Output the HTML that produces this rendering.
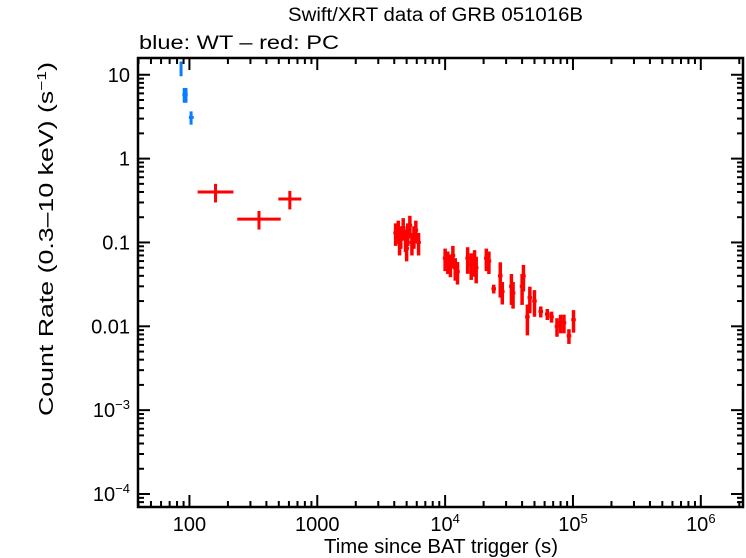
<!DOCTYPE html>
<html><head><meta charset="utf-8"><style>
body{margin:0;background:#fff}
svg{display:block;font-family:"Liberation Sans",sans-serif}
</style></head><body>
<svg id="c" width="746" height="558">
<text x="288" y="21" font-size="19" textLength="295" lengthAdjust="spacingAndGlyphs">Swift/XRT data of GRB 051016B</text>
<text x="139" y="49" font-size="19" textLength="200" lengthAdjust="spacingAndGlyphs">blue: WT – red: PC</text>
<text x="324" y="553" font-size="20" textLength="234" lengthAdjust="spacingAndGlyphs">Time since BAT trigger (s)</text>
<text transform="translate(53,416) rotate(-90)" font-size="20" textLength="354" lengthAdjust="spacingAndGlyphs">Count Rate (0.3–10 keV) (s<tspan dy="-7" font-size="13">−1</tspan><tspan dy="7">)</tspan></text>
<g id="axes"></g><g id="marks"></g>
<rect x="138" y="58" width="605" height="449" fill="none" stroke="#000" stroke-width="2.5"/>
</svg>
<script>
const xTickVals=[100,1000,1e4,1e5,1e6];
const xTickLabels=["100","1000","10^4","10^5","10^6"];
const yTickVals=[10,1,0.1,0.01,1e-3,1e-4];
const yTickLabels=["10","1","0.1","0.01","10^-3","10^-4"];
const wtT=[86,91,94,103];
const wtR=[12,5.8,5.8,3.1];
const wtTlo=[84,88,92,99];
const wtThi=[88,94,97,108];
const wtErr=[0.2,0.2,0.2,0.18];
const pcT=[160,350,610,4100,4300,4400,4500,4700,4900,5000,5100,5300,5500,5700,5900,6200,10000,10500,11000,11500,12000,12500,15000,16000,17000,17500,21000,22000,24000,27000,28000,33000,34000,40000,41000,44000,46000,50000,56000,63000,68000,75000,80000,85000,93000,101000];
const pcR=[0.4,0.19,0.33,0.13,0.14,0.1,0.12,0.15,0.11,0.085,0.13,0.16,0.1,0.12,0.14,0.1,0.065,0.06,0.055,0.07,0.05,0.045,0.065,0.055,0.06,0.05,0.065,0.06,0.028,0.04,0.026,0.03,0.025,0.03,0.04,0.013,0.022,0.02,0.015,0.014,0.013,0.01,0.011,0.011,0.0077,0.012];
const pcErr=[0.25,0.25,0.25,0.3,0.3,0.3,0.3,0.3,0.3,0.3,0.3,0.3,0.3,0.3,0.3,0.3,0.3,0.3,0.3,0.3,0.3,0.3,0.35,0.35,0.35,0.35,0.3,0.3,0.12,0.45,0.3,0.4,0.35,0.4,0.35,0.4,0.35,0.35,0.15,0.15,0.15,0.25,0.25,0.25,0.2,0.3];
const pcHalfW=[0.14,0.17,0.09];
const X0=Math.log10(39.6),X1=6.33,Y0=1.2,Y1=-4.155;
const L=138,R=743,T=58,B=507;
const xs=v=>L+(Math.log10(v)-X0)/(X1-X0)*(R-L);
const ys=v=>T+(Y0-Math.log10(v))/(Y0-Y1)*(B-T);
const NS="http://www.w3.org/2000/svg";
const ax=document.getElementById('axes'),mk=document.getElementById('marks');
function ln(p,x1,y1,x2,y2,c,w){const l=document.createElementNS(NS,'line');l.setAttribute('x1',x1);l.setAttribute('y1',y1);l.setAttribute('x2',x2);l.setAttribute('y2',y2);l.setAttribute('stroke',c);l.setAttribute('stroke-width',w);p.appendChild(l);return l;}
function lab(p,x,y,s,anchor){const t=document.createElementNS(NS,'text');t.setAttribute('x',x);t.setAttribute('y',y);t.setAttribute('font-size','20');t.setAttribute('text-anchor',anchor);
 const m=s.split('^');t.textContent=m[0];if(m[1]){const sp=document.createElementNS(NS,'tspan');sp.setAttribute('dy','-8');sp.setAttribute('font-size','13');sp.textContent=m[1].replace('-','−');t.appendChild(sp);}p.appendChild(t);return t;}
for(let d=1;d<=6;d++)for(let k=1;k<10;k++){const v=k*Math.pow(10,d);const x=xs(v);if(x<L||x>R)continue;const len=k==1?12:6;
 const a=ln(ax,x,B,x,B-len,'#000',2);
 const b=ln(ax,x,T,x,T+len,'#000',2);}
for(let d=-5;d<=1;d++)for(let k=1;k<10;k++){const v=k*Math.pow(10,d);const y=ys(v);if(y<T||y>B)continue;const len=k==1?12:6;
 const a=ln(ax,L,y,L+len,y,'#000',2);
 const b=ln(ax,R,y,R-len,y,'#000',2);}
xTickVals.forEach((v,i)=>{const t=lab(ax,xs(v),531,xTickLabels[i],'middle');

});
yTickVals.forEach((v,i)=>{const t=lab(ax,L-8,ys(v)+7,yTickLabels[i],'end');

});
wtT.forEach((t,i)=>{const g=document.createElementNS(NS,'g');


const r=wtR[i],e=wtErr[i];ln(g,xs(wtTlo[i]),ys(r),xs(wtThi[i]),ys(r),'#0a7cff',3);ln(g,xs(t),ys(r*(1+e)),xs(t),ys(r*(1-e)),'#0a7cff',3);mk.appendChild(g);});
pcT.forEach((t,i)=>{const g=document.createElementNS(NS,'g');


const r=pcR[i],e=pcErr[i];const hw=i<pcHalfW.length?pcHalfW[i]:0.018;
ln(g,xs(t*Math.pow(10,-hw)),ys(r),xs(t*Math.pow(10,hw)),ys(r),'#f00',3);ln(g,xs(t),ys(r*(1+e)),xs(t),ys(r*(1-e)),'#f00',i<3?3:3.5);mk.appendChild(g);});
</script>
</body></html>
